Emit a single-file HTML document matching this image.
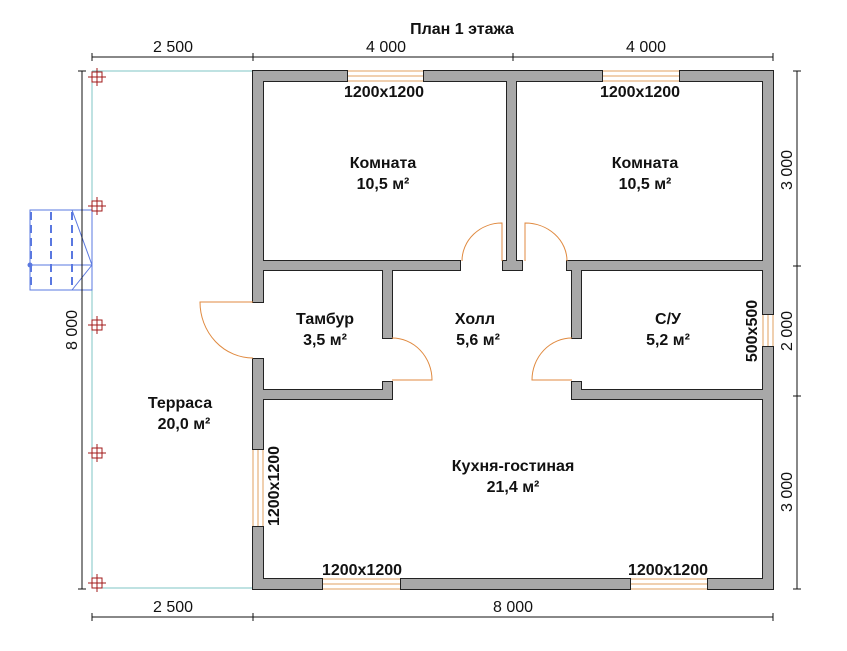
<!DOCTYPE html>
<html><head><meta charset="utf-8"><style>
html,body{margin:0;padding:0;background:#fff;}
svg{display:block;}
text{font-family:"Liberation Sans",sans-serif;}
.b{font-weight:bold;font-size:16px;fill:#111;}
.d{font-size:16px;fill:#111;}
</style></head><body>
<svg width="847" height="651" viewBox="0 0 847 651" xmlns="http://www.w3.org/2000/svg">
<defs>
<g id="walls">
<rect x="253" y="71" width="94" height="10"/><rect x="424" y="71" width="178" height="10"/><rect x="680" y="71" width="93" height="10"/>
<rect x="253" y="71" width="10" height="231"/><rect x="253" y="359" width="10" height="90"/><rect x="253" y="527" width="10" height="62"/>
<rect x="763" y="71" width="10" height="243"/><rect x="763" y="347" width="10" height="242"/>
<rect x="253" y="579" width="69" height="10"/><rect x="401" y="579" width="229" height="10"/><rect x="708" y="579" width="65" height="10"/>
<rect x="507" y="81" width="9" height="181"/><rect x="503" y="261" width="19" height="9"/>
<rect x="263" y="261" width="197" height="9"/><rect x="567" y="261" width="196" height="9"/>
<rect x="383" y="270" width="9" height="68"/><rect x="383" y="382" width="9" height="17"/>
<rect x="263" y="390" width="129" height="9"/>
<rect x="572" y="270" width="9" height="68"/><rect x="572" y="382" width="9" height="17"/>
<rect x="572" y="390" width="191" height="9"/>
</g>
</defs>
<g stroke="#7fc4c4" stroke-width="1" fill="none">
<line x1="92" y1="71" x2="253" y2="71"/>
<line x1="92" y1="71" x2="92" y2="588"/>
<line x1="92" y1="588" x2="253" y2="588"/>
</g>
<g stroke="#5a78e0" stroke-width="1" fill="none">
<rect x="30" y="210" width="62" height="80"/>
<line x1="30" y1="265" x2="92" y2="265"/>
<line x1="72" y1="210" x2="92" y2="265"/><line x1="92" y1="265" x2="72" y2="290"/>
<g stroke-width="2" stroke-dasharray="8,5"><line x1="31" y1="212" x2="31" y2="290"/><line x1="51" y1="212" x2="51" y2="290"/><line x1="72" y1="212" x2="72" y2="290"/></g>
</g>
<circle cx="30" cy="265" r="2.5" fill="#5a78e0"/>
<g stroke="#a01818" stroke-width="1" fill="none">
<g id="p"><rect x="92" y="72" width="10" height="10"/><line x1="88" y1="77" x2="106" y2="77"/><line x1="97" y1="68" x2="97" y2="86"/></g>
<use href="#p" y="129"/><use href="#p" y="248"/><use href="#p" y="376"/><use href="#p" y="506"/>
</g>
<g stroke="#111" stroke-width="1">
<line x1="92" y1="57" x2="773" y2="57"/>
<line x1="92" y1="617" x2="773" y2="617"/>
<line x1="82" y1="71" x2="82" y2="589"/>
<line x1="797" y1="71" x2="797" y2="589"/>
<line x1="92" y1="53" x2="92" y2="61"/><line x1="253" y1="53" x2="253" y2="61"/><line x1="513" y1="53" x2="513" y2="61"/><line x1="773" y1="53" x2="773" y2="61"/>
<line x1="92" y1="613" x2="92" y2="621"/><line x1="253" y1="613" x2="253" y2="621"/><line x1="773" y1="613" x2="773" y2="621"/>
<line x1="78" y1="71" x2="86" y2="71"/><line x1="78" y1="589" x2="86" y2="589"/>
<line x1="793" y1="71" x2="801" y2="71"/><line x1="793" y1="266" x2="801" y2="266"/><line x1="793" y1="396" x2="801" y2="396"/><line x1="793" y1="589" x2="801" y2="589"/>
</g>
<g class="d" text-anchor="middle">
<text x="173" y="52">2 500</text><text x="386" y="52">4 000</text><text x="646" y="52">4 000</text>
<text x="173" y="612">2 500</text><text x="513" y="612">8 000</text>
<text transform="translate(77,330) rotate(-90)">8 000</text>
<text transform="translate(792,170) rotate(-90)">3 000</text>
<text transform="translate(792,331) rotate(-90)">2 000</text>
<text transform="translate(792,492) rotate(-90)">3 000</text>
</g>
<text class="b" x="462" y="34" text-anchor="middle">План 1 этажа</text>
<g fill="#fff" stroke="#e0a060" stroke-width="1">
<rect x="347" y="71" width="77" height="10"/><line x1="347" y1="76" x2="424" y2="76"/>
<rect x="602" y="71" width="78" height="10"/><line x1="602" y1="76" x2="680" y2="76"/>
<rect x="322" y="579" width="79" height="10"/><line x1="322" y1="584" x2="401" y2="584"/>
<rect x="630" y="579" width="78" height="10"/><line x1="630" y1="584" x2="708" y2="584"/>
<rect x="253" y="449" width="10" height="78"/><line x1="258" y1="449" x2="258" y2="527"/>
<rect x="763" y="314" width="10" height="33"/><line x1="768" y1="314" x2="768" y2="347"/>
</g>
<use href="#walls" fill="#222" stroke="#222" stroke-width="2"/>
<use href="#walls" fill="#a8a8a8" stroke="none"/>
<g fill="none" stroke="#e08a40" stroke-width="1">
<path d="M253 302 H200 A53 56 0 0 0 253 358"/>
<path d="M502 261 V223 A40 38 0 0 0 462 261"/>
<path d="M525 261 V223 A42 38 0 0 1 567 261"/>
<path d="M392 380 H432 A40 42 0 0 0 392 338"/>
<path d="M572 380 H532 A40 42 0 0 1 572 338"/>
</g>
<g class="b" text-anchor="middle">
<text x="383" y="168">Комната</text><text x="383" y="189">10,5 м²</text>
<text x="645" y="168">Комната</text><text x="645" y="189">10,5 м²</text>
<text x="325" y="324">Тамбур</text><text x="325" y="345">3,5 м²</text>
<text x="475" y="324">Холл</text><text x="478" y="345">5,6 м²</text>
<text x="668" y="324">С/У</text><text x="668" y="345">5,2 м²</text>
<text x="180" y="408">Терраса</text><text x="184" y="429">20,0 м²</text>
<text x="513" y="471">Кухня-гостиная</text><text x="513" y="492">21,4 м²</text>
<text x="384" y="97">1200x1200</text><text x="640" y="97">1200x1200</text>
<text x="362" y="575">1200x1200</text><text x="668" y="575">1200x1200</text>
<text transform="translate(279,486) rotate(-90)">1200x1200</text>
<text transform="translate(757,331) rotate(-90)">500x500</text>
</g>
</svg>
</body></html>
